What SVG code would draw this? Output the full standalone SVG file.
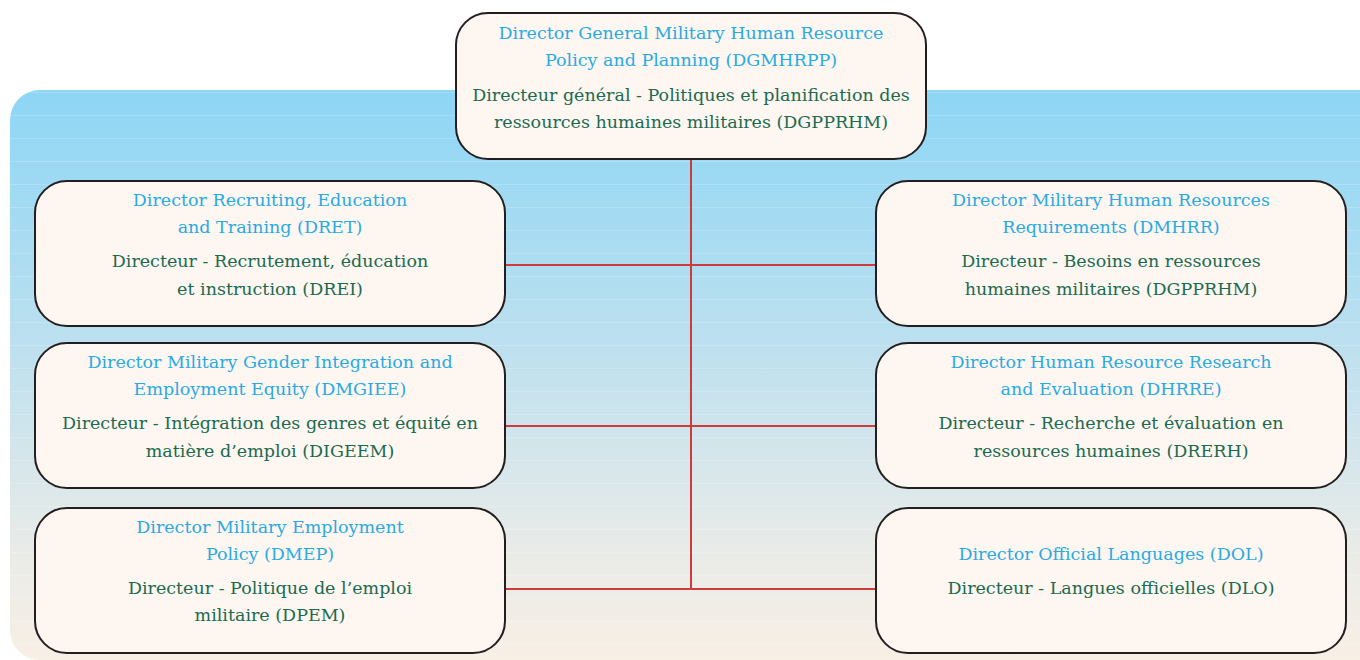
<svg xmlns="http://www.w3.org/2000/svg" width="1360" height="660" viewBox="0 0 1360 660">
<defs>
<linearGradient id="bg" x1="0" y1="0" x2="0" y2="1">
<stop offset="0" stop-color="#8dd6f5"/>
<stop offset="0.45" stop-color="#bde0ef"/>
<stop offset="0.8" stop-color="#e8ebe8"/>
<stop offset="1" stop-color="#f8efe5"/>
</linearGradient>
<pattern id="stripes" width="20" height="23" patternUnits="userSpaceOnUse">
<rect x="0" y="0" width="20" height="1" fill="#ffffff" opacity="0.18"/>
</pattern>
</defs>
<style>
.box{fill:#fdf6f1;stroke:#231f20;stroke-width:2}
text{font-family:'DejaVu Serif','Liberation Serif',serif;font-size:17.5px;text-anchor:middle}
.en{fill:#29abe2}
.fr{fill:#1b6b50}
.conn{stroke:#cf3a3a;stroke-width:2;fill:none}
</style>
<rect width="1360" height="660" fill="#ffffff"/>
<path d="M40 90 H1360 V660 H40 A30 30 0 0 1 10 630 V120 A30 30 0 0 1 40 90 Z" fill="url(#bg)"/>
<path d="M40 90 H1360 V660 H40 A30 30 0 0 1 10 630 V120 A30 30 0 0 1 40 90 Z" fill="url(#stripes)"/>
<g id="connectors">
<line class="conn" x1="691" y1="159" x2="691" y2="590"/>
<line class="conn" x1="505" y1="265" x2="876" y2="265"/>
<line class="conn" x1="505" y1="426" x2="876" y2="426"/>
<line class="conn" x1="505" y1="589" x2="876" y2="589"/>
</g>
<g id="dgmhrpp">
<rect class="box" x="456" y="13" width="470" height="146" rx="32"/>
<text class="en" x="691" y="39">Director General Military Human Resource</text>
<text class="en" x="691" y="66">Policy and Planning (DGMHRPP)</text>
<text class="fr" x="691" y="101">Directeur général - Politiques et planification des</text>
<text class="fr" x="691" y="128">ressources humaines militaires (DGPPRHM)</text>
</g>
<g id="dret">
<rect class="box" x="35" y="181" width="470" height="145" rx="32"/>
<text class="en" x="270" y="206">Director Recruiting, Education</text>
<text class="en" x="270" y="233">and Training (DRET)</text>
<text class="fr" x="270" y="267">Directeur - Recrutement, éducation</text>
<text class="fr" x="270" y="295">et instruction (DREI)</text>
</g>
<g id="dmgiee">
<rect class="box" x="35" y="343" width="470" height="145" rx="32"/>
<text class="en" x="270" y="368">Director Military Gender Integration and</text>
<text class="en" x="270" y="395">Employment Equity (DMGIEE)</text>
<text class="fr" x="270" y="429">Directeur - Intégration des genres et équité en</text>
<text class="fr" x="270" y="457">matière d’emploi (DIGEEM)</text>
</g>
<g id="dmep">
<rect class="box" x="35" y="508" width="470" height="145" rx="32"/>
<text class="en" x="270" y="533">Director Military Employment</text>
<text class="en" x="270" y="560">Policy (DMEP)</text>
<text class="fr" x="270" y="594">Directeur - Politique de l’emploi</text>
<text class="fr" x="270" y="621">militaire (DPEM)</text>
</g>
<g id="dmhrr">
<rect class="box" x="876" y="181" width="470" height="145" rx="32"/>
<text class="en" x="1111" y="206">Director Military Human Resources</text>
<text class="en" x="1111" y="233">Requirements (DMHRR)</text>
<text class="fr" x="1111" y="267">Directeur - Besoins en ressources</text>
<text class="fr" x="1111" y="295">humaines militaires (DGPPRHM)</text>
</g>
<g id="dhrre">
<rect class="box" x="876" y="343" width="470" height="145" rx="32"/>
<text class="en" x="1111" y="368">Director Human Resource Research</text>
<text class="en" x="1111" y="395">and Evaluation (DHRRE)</text>
<text class="fr" x="1111" y="429">Directeur - Recherche et évaluation en</text>
<text class="fr" x="1111" y="457">ressources humaines (DRERH)</text>
</g>
<g id="dol">
<rect class="box" x="876" y="508" width="470" height="145" rx="32"/>
<text class="en" x="1111" y="560">Director Official Languages (DOL)</text>
<text class="fr" x="1111" y="594">Directeur - Langues officielles (DLO)</text>
</g>
</svg>
